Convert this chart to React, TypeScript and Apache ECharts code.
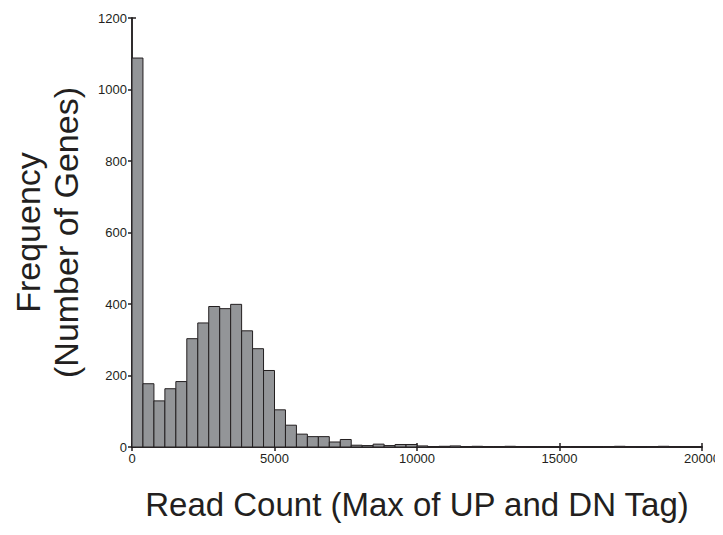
import React, { useEffect, useRef } from "react";
import * as echarts from "echarts";

// Histogram counts per bin (bin width = 20000 / 52)
const binCounts: number[] = [
  1088, 177, 129, 163, 183, 303, 347, 393, 387, 399,
  325, 275, 214, 104, 61, 36, 29, 29, 14, 21,
  5, 4, 8, 4, 7, 7, 3, 1, 2, 3,
  1, 2, 1, 1, 2, 1, 0, 1, 0, 1,
  1, 0, 0, 1, 2, 1, 0, 1, 2, 1,
  0, 0,
];
const xMax = 20000;
const binWidth = xMax / 52;
const xTicks: number[] = [0, 5000, 10000, 15000, 20000];
const yTicks: number[] = [0, 200, 400, 600, 800, 1000, 1200];
const xTitle = "Read Count (Max of UP and DN Tag)";
const yTitle = "Frequency\n(Number of Genes)";

export default function App() {
  const ref = useRef<HTMLDivElement>(null);
  useEffect(() => {
    if (!ref.current) return;
    const chart = echarts.init(ref.current, undefined, { renderer: "svg" });
    const data = binCounts.map((c, i) => [i * binWidth, (i + 1) * binWidth, c]);
    const textColor = "#231f20";
    const font = "Liberation Sans, Arial, Helvetica, sans-serif";
    const lineStyle = { color: "#231f20", width: 1.5 };
    chart.setOption({
      animation: false,
      backgroundColor: "#ffffff",
      grid: {
        left: 124,
        right: 21,
        top: 10,
        bottom: 80,
        containLabel: false,
        outerBoundsMode: "none",
      },
      xAxis: [
        {
          type: "value",
          min: 0,
          max: xMax,
          interval: 5000,
          position: "bottom",
          axisLine: { show: true, lineStyle },
          axisTick: { show: true, inside: true, length: 4, lineStyle },
          axisLabel: {
            show: true,
            color: textColor,
            fontSize: 13,
            fontFamily: font,
            margin: 5,
            formatter: (v: number) => (xTicks.includes(v) ? String(v) : ""),
          },
          splitLine: { show: false },
          name: xTitle,
          nameLocation: "middle",
          nameGap: 41,
          nameTextStyle: {
            color: textColor,
            fontSize: 33,
            fontFamily: font,
          },
        },
        {
          type: "value",
          min: 0,
          max: xMax,
          interval: 5000,
          position: "top",
          axisLine: { show: true, lineStyle },
          axisTick: { show: true, inside: true, length: 4, lineStyle },
          axisLabel: { show: false },
          splitLine: { show: false },
        },
      ],
      yAxis: [
        {
          type: "value",
          min: 0,
          max: 1200,
          interval: 200,
          position: "left",
          axisLine: { show: true, lineStyle },
          axisTick: { show: true, inside: true, length: 4, lineStyle },
          axisLabel: {
            show: true,
            color: textColor,
            fontSize: 13,
            fontFamily: font,
            margin: 5,
            formatter: (v: number) => (yTicks.includes(v) ? String(v) : ""),
          },
          splitLine: { show: false },
          name: yTitle,
          nameLocation: "middle",
          nameGap: 47,
          nameRotate: 90,
          nameTextStyle: {
            color: textColor,
            fontSize: 34,
            lineHeight: 38,
            fontFamily: font,
          },
        },
        {
          type: "value",
          min: 0,
          max: 1200,
          interval: 200,
          position: "right",
          axisLine: { show: true, lineStyle },
          axisTick: { show: true, inside: true, length: 4, lineStyle },
          axisLabel: { show: false },
          splitLine: { show: false },
        },
      ],
      series: [
        {
          type: "custom",
          xAxisIndex: 0,
          yAxisIndex: 0,
          data,
          encode: { x: [0, 1], y: 2 },
          renderItem: (params: any, api: any) => {
            const start = api.coord([api.value(0), api.value(2)]);
            const end = api.coord([api.value(1), 0]);
            return {
              type: "rect",
              shape: {
                x: start[0],
                y: start[1],
                width: end[0] - start[0],
                height: end[1] - start[1],
              },
              style: { fill: "#939598", stroke: "#231f20", lineWidth: 1 },
            };
          },
        },
      ],
    });
    return () => chart.dispose();
  }, []);
  return <div ref={ref} style={{ width: 715, height: 519 }} />;
}
